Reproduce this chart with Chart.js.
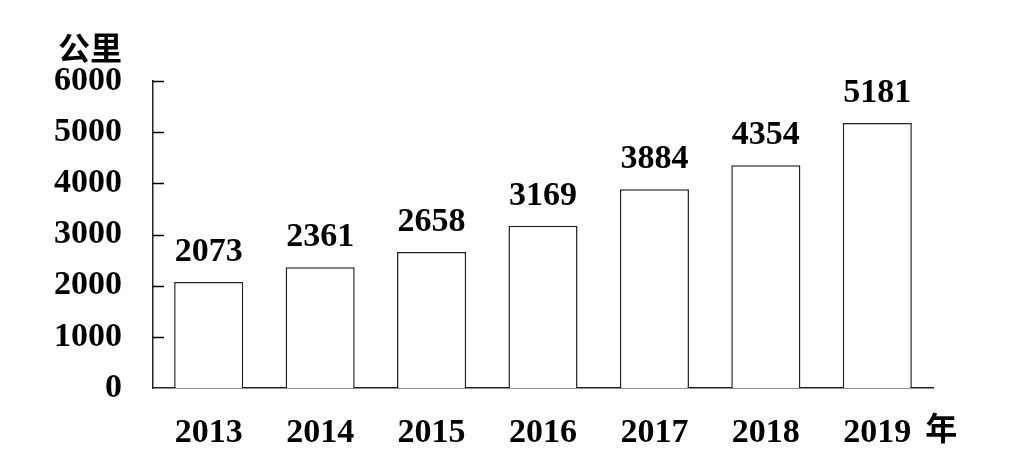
<!DOCTYPE html>
<html>
<head>
<meta charset="utf-8">
<script src="https://cdn.jsdelivr.net/npm/chart.js@4/dist/chart.umd.min.js"></script>
<style>
  html, body { margin: 0; padding: 0; background: #fff; }
  #wrap { width: 1027px; height: 474px; }
</style>
</head>
<body>
<div id="wrap"><canvas id="chart"></canvas></div>
<script>
// Data
const years = ['2013', '2014', '2015', '2016', '2017', '2018', '2019'];
const lengths = [2073, 2361, 2658, 3169, 3884, 4354, 5181];
const yTicks = [0, 1000, 2000, 3000, 4000, 5000, 6000];
const yUnit = '公里';
const xUnit = '年';

const serif = '"Liberation Serif", "Times New Roman", serif';
const cjk = '"Noto Sans CJK SC", sans-serif';

// Draw short tick marks pointing into the plot, value labels and units
const extrasPlugin = {
  id: 'extras',
  afterDraw(chart) {
    const ctx = chart.ctx;
    const y = chart.scales.y;
    const x = chart.scales.x;
    const area = chart.chartArea;
    ctx.save();

    // inward tick marks
    ctx.strokeStyle = '#000';
    ctx.lineWidth = 1.5;
    yTicks.forEach(v => {
      if (v === 0) return;
      const py = Math.round(y.getPixelForValue(v)) + 0.5;
      ctx.beginPath();
      ctx.moveTo(area.left, py);
      ctx.lineTo(area.left + 11, py);
      ctx.stroke();
    });

    // value labels above each bar
    ctx.fillStyle = '#000';
    ctx.font = 'bold 34px ' + serif;
    ctx.textAlign = 'center';
    ctx.textBaseline = 'alphabetic';
    chart.getDatasetMeta(0).data.forEach((bar, i) => {
      ctx.fillText(String(lengths[i]), bar.x, bar.y - 21);
    });

    // units
    ctx.font = 'bold 32px ' + cjk;
    ctx.textBaseline = 'middle';
    ctx.textAlign = 'center';
    ctx.fillText(yUnit, area.left - 63, 48);
    ctx.textAlign = 'left';
    const lastX = x.getPixelForValue(years.length - 1);
    ctx.fillText(xUnit, lastX + 48, 428);

    ctx.restore();
  }
};

new Chart(document.getElementById('chart'), {
  type: 'bar',
  data: {
    labels: years,
    datasets: [{
      data: lengths,
      backgroundColor: '#fff',
      borderColor: '#222',
      borderWidth: 1.5,
      barPercentage: 0.62,
      categoryPercentage: 1
    }]
  },
  options: {
    responsive: true,
    maintainAspectRatio: false,
    animation: false,
    layout: { padding: { left: 0, right: 94, top: 81, bottom: 0 } },
    plugins: {
      legend: { display: false },
      tooltip: { enabled: false }
    },
    scales: {
      x: {
        grid: { display: false, drawTicks: false },
        border: { display: true, color: '#222', width: 1.5 },
        ticks: {
          color: '#000',
          padding: 25,
          maxRotation: 0,
          font: { family: serif, size: 34, weight: 'bold' }
        },
        afterFit(scale) { scale.height = 86; }
      },
      y: {
        min: 0,
        max: 6000,
        grid: { display: false, drawTicks: false },
        border: { display: true, color: '#222', width: 1.5 },
        ticks: {
          color: '#000',
          stepSize: 1000,
          padding: 31,
          callback: v => String(v),
          font: { family: serif, size: 34, weight: 'bold' }
        },
        afterFit(scale) { scale.width = 153; }
      }
    }
  },
  plugins: [extrasPlugin]
});
</script>
</body>
</html>
